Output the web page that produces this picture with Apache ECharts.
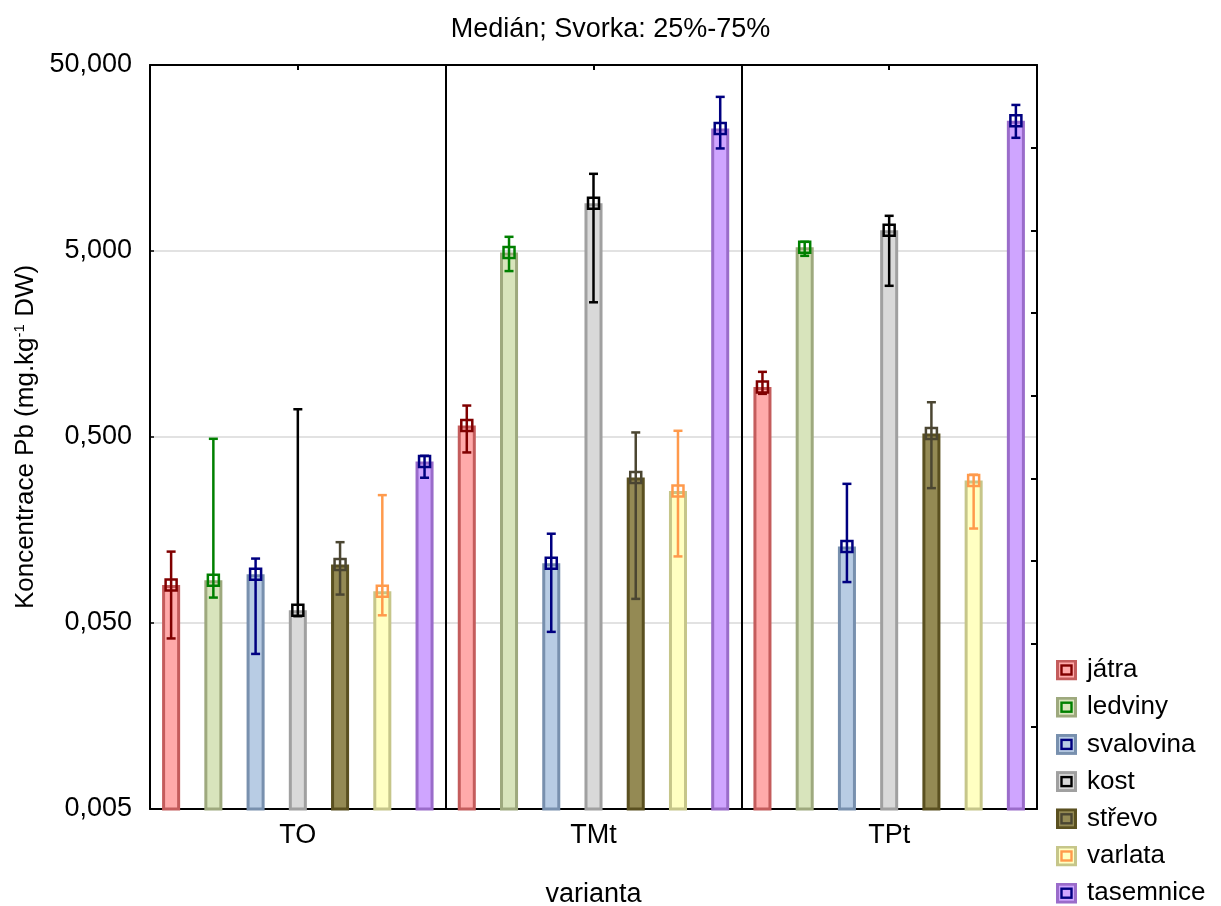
<!DOCTYPE html>
<html>
<head>
<meta charset="utf-8">
<script src="https://cdn.jsdelivr.net/npm/echarts@6/dist/echarts.min.js"></script>
<style>
  html, body { margin: 0; padding: 0; background: #ffffff; }
  #chart { width: 1221px; height: 906px; }
</style>
</head>
<body>
<div id="chart"></div>
<script>
// Groups on the category axis
const categories = ['TO', 'TMt', 'TPt'];
const seriesNames = ['játra', 'ledviny', 'svalovina', 'kost', 'střevo', 'varlata', 'tasemnice'];

// Pb concentration, mg/kg DW: median, 25 % and 75 % quantiles per group
const jatraMedian = [0.080, 0.576, 0.928];
const jatraQ1     = [0.0413, 0.413, 0.853];
const jatraQ3     = [0.121, 0.738, 1.12];

const ledvinyMedian = [0.085, 4.91, 5.24];
const ledvinyQ1     = [0.0685, 3.90, 4.71];
const ledvinyQ3     = [0.489, 5.96, 5.60];

const svalovinaMedian = [0.0914, 0.1047, 0.129];
const svalovinaQ1     = [0.0341, 0.0448, 0.083];
const svalovinaQ3     = [0.111, 0.151, 0.280];

const kostMedian = [0.0585, 9.03, 6.46];
const kostQ1     = [0.0544, 2.65, 3.25];
const kostQ3     = [0.705, 13.0, 7.73];

const strevoMedian = [0.103, 0.303, 0.522];
const strevoQ1     = [0.0711, 0.0674, 0.2655];
const strevoQ3     = [0.136, 0.529, 0.769];

const varlataMedian = [0.074, 0.2565, 0.292];
const varlataQ1     = [0.055, 0.114, 0.161];
const varlataQ3     = [0.2435, 0.540, 0.3135];

const tasemniceMedian = [0.369, 22.8, 25.1];
const tasemniceQ1     = [0.302, 17.8, 20.3];
const tasemniceQ3     = [0.396, 33.7, 30.5];

const medians = [jatraMedian, ledvinyMedian, svalovinaMedian, kostMedian, strevoMedian, varlataMedian, tasemniceMedian];
const lowerQ  = [jatraQ1, ledvinyQ1, svalovinaQ1, kostQ1, strevoQ1, varlataQ1, tasemniceQ1];
const upperQ  = [jatraQ3, ledvinyQ3, svalovinaQ3, kostQ3, strevoQ3, varlataQ3, tasemniceQ3];

// The log axis runs in multiples of the lowest tick value (0,005 -> 1, 50,000 -> 10000)
const Y_UNIT = 0.005;
const FONT = "'Liberation Sans', Arial, Helvetica, sans-serif";

// bar fill, bar outline, marker / whisker colour
const palette = [
  { fill: '#FFAAAA', edge: '#C45C5C', mark: '#800000' },
  { fill: '#D8E4BC', edge: '#9EA97E', mark: '#008000' },
  { fill: '#B8CCE4', edge: '#7890AE', mark: '#000080' },
  { fill: '#D9D9D9', edge: '#A0A0A0', mark: '#000000' },
  { fill: '#948A54', edge: '#5A5020', mark: '#4B4632' },
  { fill: '#FFFFC2', edge: '#C6C68A', mark: '#FF9A4C' },
  { fill: '#CFA5FF', edge: '#9A6CCA', mark: '#000080' }
];

function legendIcon(p) {
  const svg = '<svg xmlns="http://www.w3.org/2000/svg" width="21" height="21">' +
    '<rect x="1.5" y="1.5" width="18" height="18" fill="' + p.fill + '" stroke="' + p.edge + '" stroke-width="3"/>' +
    '<rect x="5.5" y="6" width="10" height="9" fill="none" stroke="' + p.mark + '" stroke-width="2.4"/>' +
    '</svg>';
  return 'image://data:image/svg+xml;charset=utf-8,' + encodeURIComponent(svg);
}

function makeRenderer(si) {
  return function (params, api) {
    const cat = api.value(0);
    const base0 = api.coord([0, 1]);
    const base1 = api.coord([1, 1]);
    const catW = base1[0] - base0[0];
    const slot = catW / seriesNames.length;
    const medPt = api.coord([cat, api.value(1)]);
    const cx = medPt[0] + (si - (seriesNames.length - 1) / 2) * slot;
    const yMed = medPt[1];
    const yBase = base0[1];
    const yLo = api.coord([cat, api.value(2)])[1];
    const yHi = api.coord([cat, api.value(3)])[1];
    const bw = catW * 0.061;
    const p = palette[si];
    const cap = 4.5;
    const ms = 5.5;
    return {
      type: 'group',
      children: [
        { type: 'rect',
          shape: { x: cx - bw / 2 + 1.5, y: yMed + 1.5, width: bw - 3, height: yBase - yMed - 1.5 },
          style: { fill: p.fill, stroke: p.edge, lineWidth: 3 } },
        { type: 'line', shape: { x1: cx, y1: yHi, x2: cx, y2: yLo },
          style: { stroke: p.mark, lineWidth: 2.5 } },
        { type: 'line', shape: { x1: cx - cap, y1: yHi, x2: cx + cap, y2: yHi },
          style: { stroke: p.mark, lineWidth: 2.5 } },
        { type: 'line', shape: { x1: cx - cap, y1: yLo, x2: cx + cap, y2: yLo },
          style: { stroke: p.mark, lineWidth: 2.5 } },
        { type: 'rect', shape: { x: cx - ms, y: yMed - ms, width: 2 * ms, height: 2 * ms },
          style: { fill: 'transparent', stroke: p.mark, lineWidth: 2.5 } }
      ]
    };
  };
}

const series = seriesNames.map(function (name, si) {
  return {
    type: 'custom',
    name: name,
    xAxisIndex: 0,
    yAxisIndex: 0,
    renderItem: makeRenderer(si),
    encode: { x: 0, y: [1, 2, 3] },
    itemStyle: { color: palette[si].fill },
    data: categories.map(function (c, k) {
      return [k, medians[si][k] / Y_UNIT, lowerQ[si][k] / Y_UNIT, upperQ[si][k] / Y_UNIT];
    })
  };
});

const chart = echarts.init(document.getElementById('chart'));
chart.setOption({
  animation: false,
  backgroundColor: '#ffffff',
  textStyle: { fontFamily: FONT, color: '#000' },
  title: {
    text: 'Medián; Svorka: 25%-75%',
    left: 'center',
    top: 16,
    padding: [0, 0, 0, 10],
    textStyle: { fontFamily: FONT, fontSize: 27, fontWeight: 'normal', color: '#000' }
  },
  legend: {
    orient: 'vertical',
    left: 1056,
    top: 657,
    height: 320,
    padding: 0,
    itemWidth: 21,
    itemHeight: 21,
    itemGap: 11.2,
    textStyle: { fontFamily: FONT, fontSize: 26, color: '#000', padding: [0, 0, 0, 5] },
    data: seriesNames.map(function (n, i) { return { name: n, icon: legendIcon(palette[i]) }; })
  },
  grid: { left: 150, right: 184, top: 65, bottom: 97, containLabel: false, outerBoundsMode: 'none' },
  xAxis: [
    {
      type: 'category',
      data: categories,
      position: 'bottom',
      axisLine: { lineStyle: { color: '#000', width: 2 } },
      axisTick: { show: true, inside: true, alignWithLabel: true, length: 5, lineStyle: { color: '#000', width: 2 } },
      axisLabel: { fontFamily: FONT, fontSize: 27, color: '#000', margin: 13 },
      splitLine: { show: true, lineStyle: { color: '#000', width: 2 } },
      name: 'varianta',
      nameLocation: 'middle',
      nameGap: 72,
      nameTextStyle: { fontFamily: FONT, fontSize: 27, color: '#000' }
    },
    {
      type: 'category',
      data: categories,
      position: 'top',
      axisLine: { lineStyle: { color: '#000', width: 2 } },
      axisTick: { show: true, inside: true, alignWithLabel: true, length: 5, lineStyle: { color: '#000', width: 2 } },
      axisLabel: { show: false },
      splitLine: { show: false }
    }
  ],
  yAxis: [
    {
      type: 'log',
      logBase: 10,
      min: 1,
      max: 10000,
      axisLine: { show: true, lineStyle: { color: '#000', width: 2 } },
      axisTick: { show: true, inside: true, length: 4, lineStyle: { color: '#000', width: 1.5 } },
      minorTick: { show: false },
      axisLabel: {
        fontFamily: FONT, fontSize: 27, color: '#000', margin: 18,
        formatter: function (v) { return (v * Y_UNIT).toFixed(3).replace('.', ','); }
      },
      splitLine: { show: true, lineStyle: { color: '#E2E2E2', width: 2 } },
      name: '{a|Koncentrace Pb (mg.kg}{s|-1}{a| DW)}',
      nameLocation: 'middle',
      nameRotate: 90,
      nameGap: 103,
      nameTextStyle: {
        fontFamily: FONT, fontSize: 26, color: '#000',
        rich: {
          a: { fontFamily: FONT, fontSize: 26, color: '#000' },
          s: { fontFamily: FONT, fontSize: 15, color: '#000', verticalAlign: 'top' }
        }
      }
    },
    {
      type: 'value',
      position: 'right',
      min: 0,
      max: 9,
      interval: 1,
      axisLine: { show: true, lineStyle: { color: '#000', width: 2 } },
      axisTick: { show: true, inside: true, length: 6, lineStyle: { color: '#000', width: 2 } },
      axisLabel: { show: false },
      splitLine: { show: false }
    }
  ],
  series: series
});
</script>
</body>
</html>
